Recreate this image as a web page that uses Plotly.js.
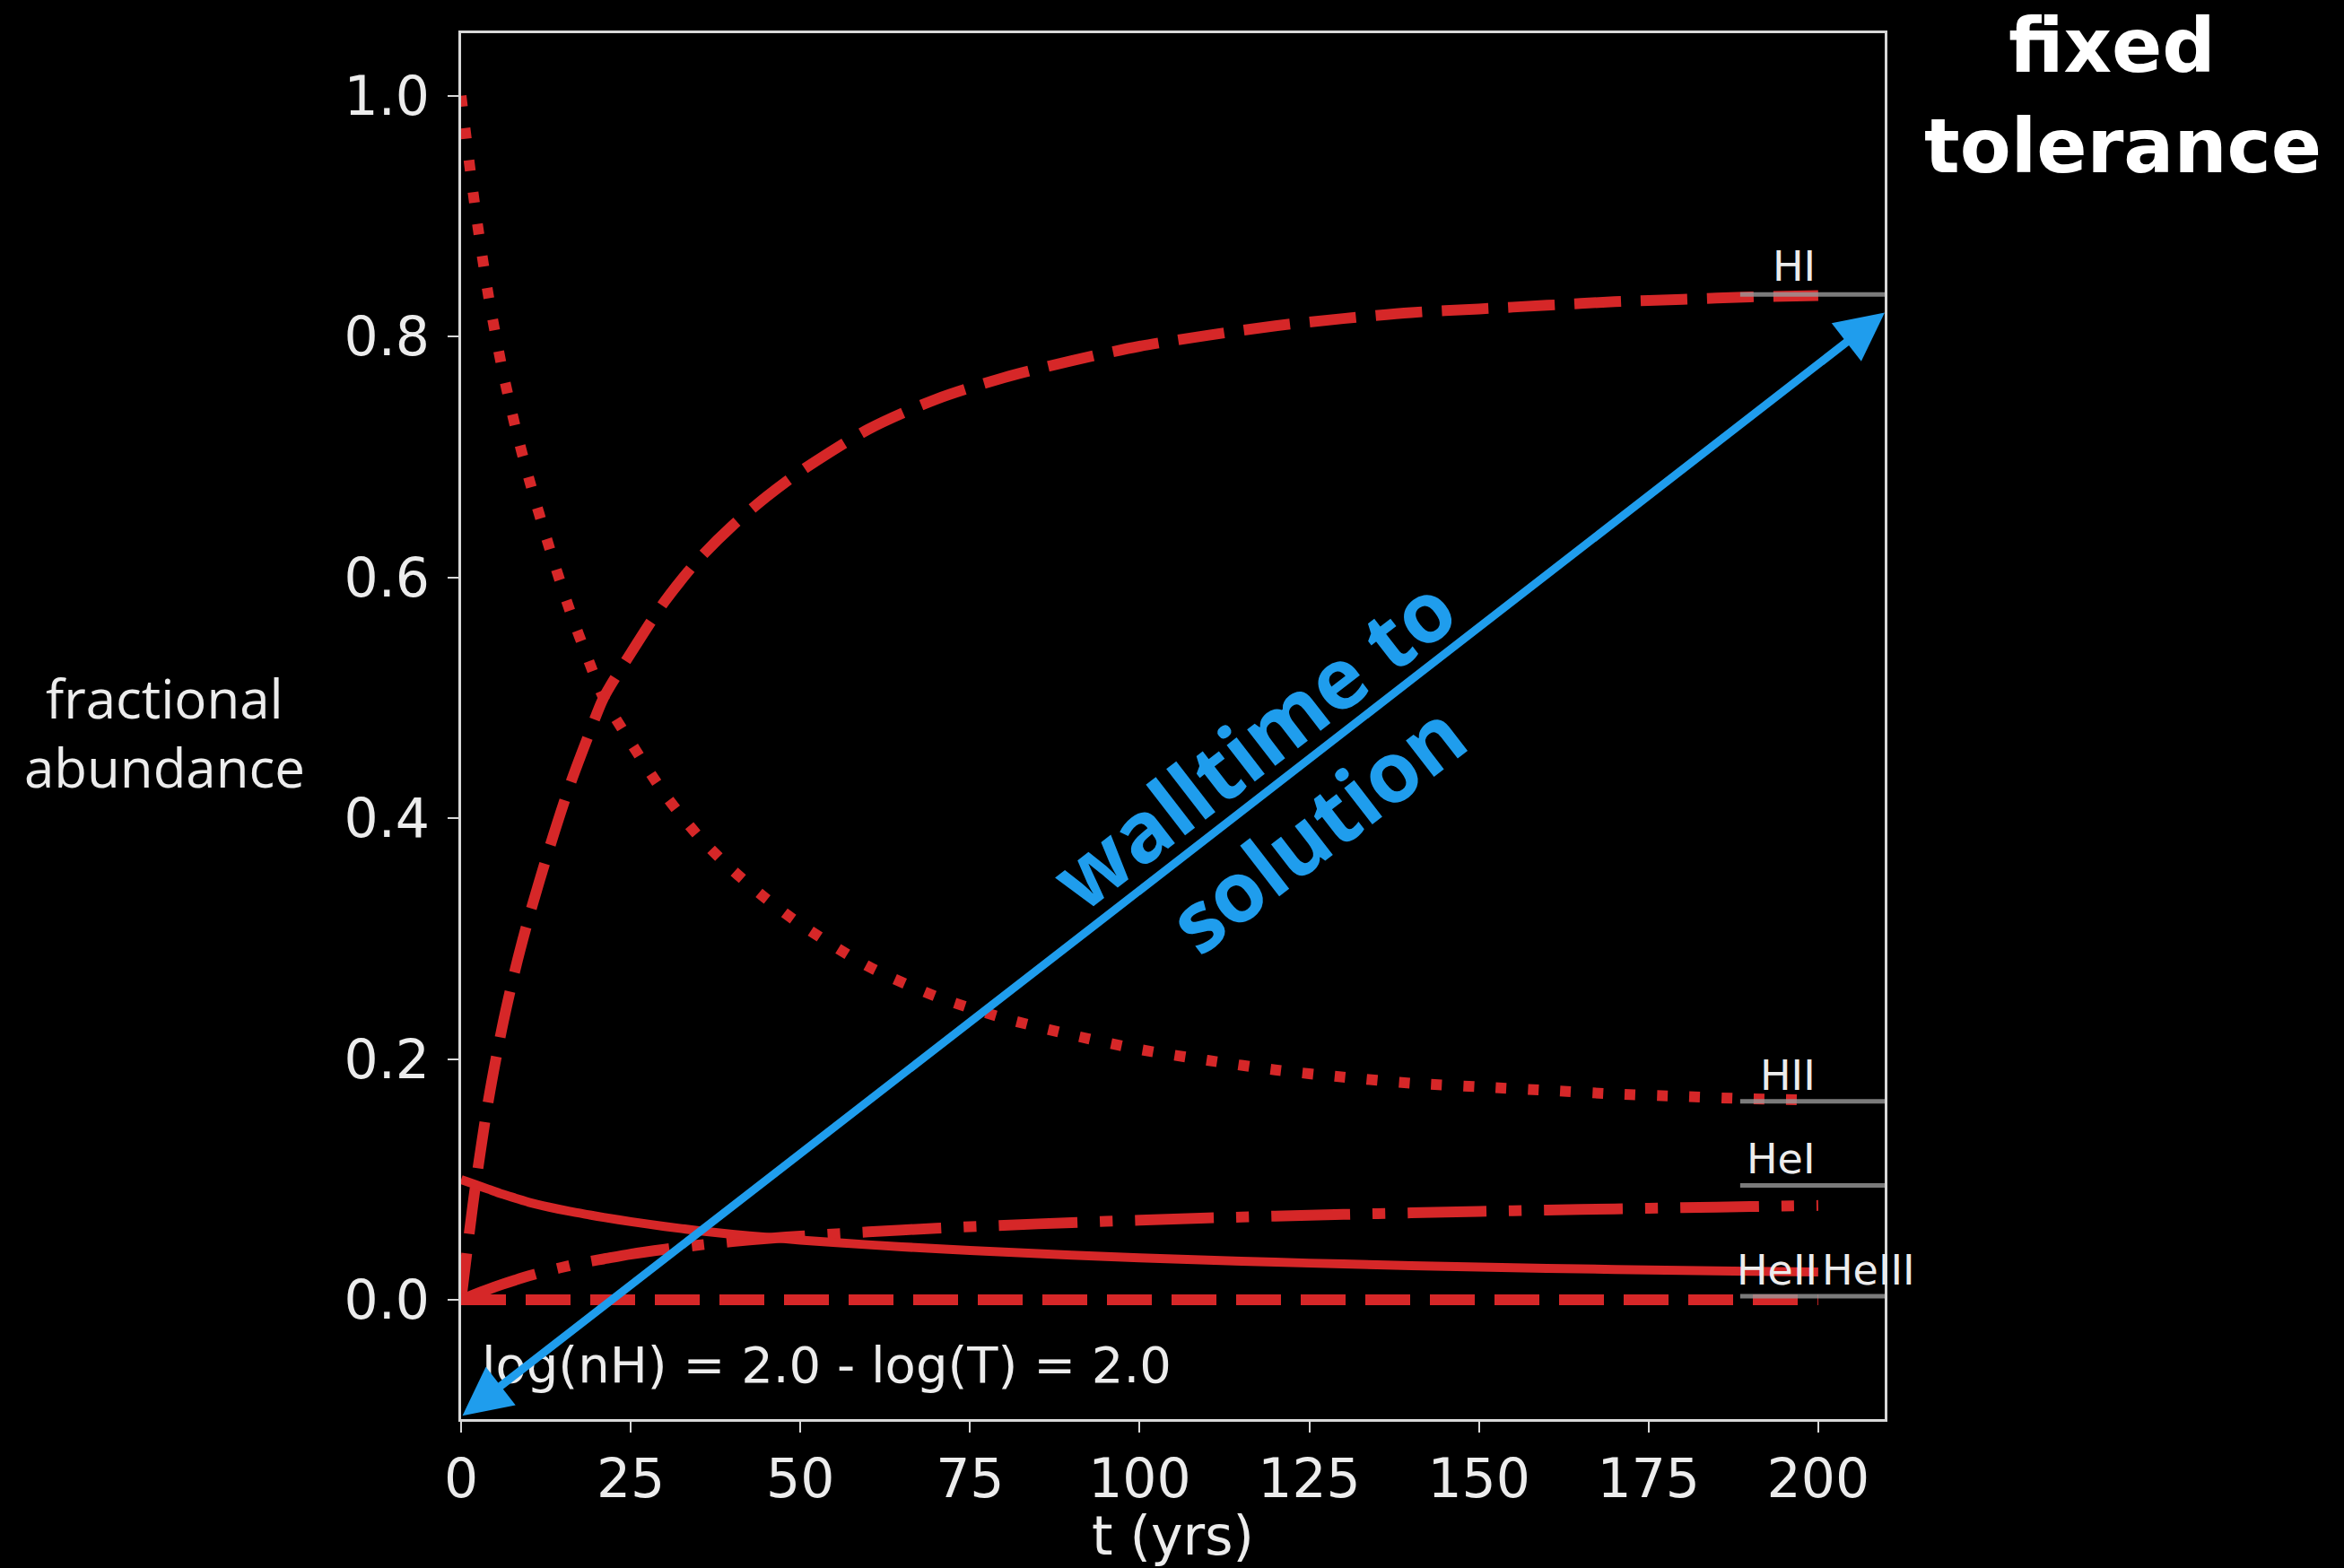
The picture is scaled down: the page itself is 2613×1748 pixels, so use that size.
<!DOCTYPE html>
<html>
<head>
<meta charset="utf-8">
<script src="https://cdn.plot.ly/plotly-3.0.1.min.js"></script>
<style>html,body{margin:0;padding:0;background:#000;}#chart{width:2613px;height:1748px;}</style>
</head>
<body>
<div id="chart"></div>
<script>
// ---- data ----
const t     = [0, 2, 4, 6, 8, 10, 13, 16, 19, 21, 25, 30, 35, 40, 45, 50, 60, 70, 80, 90, 100, 110, 120, 130, 140, 150, 160, 170, 180, 190, 200];
const HII   = [1.0, 0.91, 0.835, 0.775, 0.725, 0.682, 0.625, 0.573, 0.528, 0.50, 0.463, 0.42, 0.385, 0.357, 0.333, 0.312, 0.277, 0.252, 0.234, 0.22, 0.208, 0.199, 0.191, 0.185, 0.18, 0.177, 0.174, 0.171, 0.169, 0.167, 0.166];
const HI    = [0.0, 0.09, 0.165, 0.225, 0.275, 0.318, 0.375, 0.427, 0.472, 0.50, 0.537, 0.58, 0.615, 0.643, 0.667, 0.688, 0.723, 0.748, 0.766, 0.78, 0.792, 0.801, 0.809, 0.815, 0.82, 0.823, 0.826, 0.829, 0.831, 0.833, 0.834];
const HeI   = [0.0, 0.0045, 0.0088, 0.0128, 0.0165, 0.020, 0.0245, 0.0285, 0.032, 0.034, 0.038, 0.042, 0.0455, 0.0485, 0.051, 0.053, 0.0565, 0.0595, 0.062, 0.0642, 0.0662, 0.068, 0.0696, 0.071, 0.0723, 0.0735, 0.0746, 0.0756, 0.0766, 0.0775, 0.0784];
const HeII  = [0.100, 0.096, 0.092, 0.088, 0.0845, 0.081, 0.077, 0.0735, 0.0705, 0.0685, 0.065, 0.061, 0.0575, 0.0545, 0.052, 0.0497, 0.0458, 0.0425, 0.0397, 0.0372, 0.035, 0.033, 0.0313, 0.0298, 0.0284, 0.0272, 0.0262, 0.0253, 0.0245, 0.0238, 0.0232];
const HeIII = [0.0, 0.0, 0.0, 0.0, 0.0, 0.0, 0.0, 0.0, 0.0, 0.0, 0.0, 0.0, 0.0, 0.0, 0.0, 0.0, 0.0, 0.0, 0.0, 0.0, 0.0, 0.0, 0.0, 0.0, 0.0, 0.0, 0.0, 0.0, 0.0, 0.0, 0.0];

// equilibrium reference lines (grey) and their labels
const eqValues = [0.835, 0.165, 0.095, 0.003];
const eqX      = [188.5, 209.8];
const eqLabels = ['HI', 'HII', 'HeI', 'HeII', 'HeIII'];
const eqLabelX = [196.4, 195.5, 194.5, 194.0, 207.4];
const eqLabelY = [0.858, 0.186, 0.117, 0.0245, 0.0245];

const xTicks = [0, 25, 50, 75, 100, 125, 150, 175, 200];
const yTicks = [0.0, 0.2, 0.4, 0.6, 0.8, 1.0];
const yTickText = ['0.0', '0.2', '0.4', '0.6', '0.8', '1.0'];

const paramText = 'log(nH) = 2.0 - log(T) = 2.0';
const arrowStart = [0, -0.097];
const arrowEnd = [209.8, 0.82];

// ---- styles ----
const RED = '#d62728';
const BLUE = '#1f9ded';
const GREY = '#9a9a9a';
const AXIS = '#d8d8d8';
const TXT = '#ececec';

const traces = [
  {x: t, y: HI,    mode: 'lines', line: {color: RED, width: 12, dash: '52px,22px', shape: 'spline', smoothing: 0.8}},
  {x: t, y: HII,   mode: 'lines', line: {color: RED, width: 12, dash: '12px,24px', shape: 'spline', smoothing: 0.8}},
  {x: t, y: HeI,   mode: 'lines', line: {color: RED, width: 12, dash: '88px,25px,14px,25px', shape: 'spline', smoothing: 0.8}},
  {x: t, y: HeII,  mode: 'lines', line: {color: RED, width: 10, shape: 'spline', smoothing: 0.8}},
  {x: t, y: HeIII, mode: 'lines', line: {color: RED, width: 12, dash: '50px,22px'}}
];
eqValues.forEach(v => {
  traces.push({x: eqX, y: [v, v], mode: 'lines', opacity: 0.8, line: {color: GREY, width: 5}});
});

const annotations = [];
eqLabels.forEach((s, i) => {
  annotations.push({x: eqLabelX[i], y: eqLabelY[i], xref: 'x', yref: 'y', text: s, showarrow: false,
    xanchor: 'center', yanchor: 'middle', font: {family: 'DejaVu Sans', size: 46, color: TXT}});
});
annotations.push({x: 2.8, y: -0.054, xref: 'x', yref: 'y', text: paramText, showarrow: false,
  xanchor: 'left', yanchor: 'middle', font: {family: 'DejaVu Sans', size: 56, color: TXT}});
// arrow
annotations.push({x: arrowEnd[0], y: arrowEnd[1], ax: arrowStart[0], ay: arrowStart[1],
  xref: 'x', yref: 'y', axref: 'x', ayref: 'y', text: '', showarrow: true,
  arrowhead: 2, startarrowhead: 2, arrowside: 'end+start', arrowsize: 1.2, startarrowsize: 1.2,
  arrowwidth: 9, arrowcolor: BLUE, standoff: 0, startstandoff: 0});
annotations.push({x: 116.6, y: 0.4627, xref: 'x', yref: 'y', text: '<b>walltime to</b>', showarrow: false,
  textangle: -37.7, xanchor: 'center', yanchor: 'middle', font: {family: 'Open Sans', size: 94, color: BLUE}});
annotations.push({x: 126.0, y: 0.3927, xref: 'x', yref: 'y', text: '<b>solution</b>', showarrow: false,
  textangle: -37.7, xanchor: 'center', yanchor: 'middle', font: {family: 'Open Sans', size: 94, color: BLUE}});

// slide texts placed by pixel position
const L = 514, R = 2101, T = 37, B = 1582;
const W = R - L, H = B - T;
function pxText(text, x, y, family, size, color) {
  return {x: (x - L) / W, y: (B - y) / H, xref: 'paper', yref: 'paper', text: text, showarrow: false,
    xanchor: 'center', yanchor: 'middle', font: {family: family, size: size, color: color}};
}
annotations.push(pxText('<b>fixed</b>', 2354, 51, 'DejaVu Sans', 83, '#ffffff'));
annotations.push(pxText('<b>tolerance</b>', 2366, 163, 'DejaVu Sans', 83, '#ffffff'));
annotations.push(pxText('fractional', 183, 778, 'Open Sans', 60, TXT));
annotations.push(pxText('abundance', 183, 855, 'Open Sans', 60, TXT));
annotations.push(pxText('t (yrs)', 1307, 1712, 'DejaVu Sans', 60, TXT));

const axisCommon = {
  showline: true, mirror: true, linecolor: AXIS, linewidth: 3,
  ticks: 'outside', ticklen: 12, tickwidth: 2, tickcolor: AXIS,
  showgrid: false, zeroline: false,
  tickfont: {family: 'DejaVu Sans', size: 60, color: TXT}
};

const layout = {
  width: 2613, height: 1748,
  paper_bgcolor: '#000', plot_bgcolor: '#000',
  margin: {l: L, r: 2613 - R, t: T, b: 1748 - B},
  showlegend: false,
  xaxis: Object.assign({}, axisCommon, {range: [0, 209.8], tickvals: xTicks, ticktext: xTicks.map(String)}),
  yaxis: Object.assign({}, axisCommon, {range: [-0.099, 1.052], tickvals: yTicks, ticktext: yTickText, ticklabelstandoff: 8}),
  annotations: annotations
};

Plotly.newPlot('chart', traces, layout, {displayModeBar: false, staticPlot: true});
</script>
</body>
</html>
